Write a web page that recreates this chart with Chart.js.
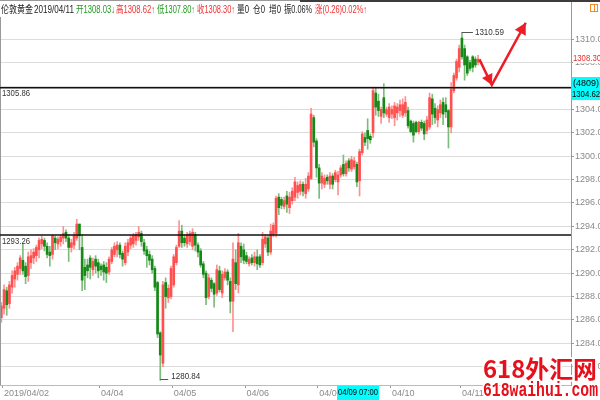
<!DOCTYPE html>
<html>
<head>
<meta charset="utf-8">
<script src="https://cdn.jsdelivr.net/npm/chart.js@4.4.1/dist/chart.umd.min.js"></script>
<style>
  html, body { margin: 0; padding: 0; background: #fff; }
  #wrap { width: 600px; height: 400px; }
</style>
</head>
<body>
<div id="wrap"><canvas id="goldChart" width="600" height="400"></canvas></div>
<script>
// slots on the time axis (candles + empty room on the right)
const SLOTS = 212;

// hourly candles
const opens = [
  1286.2, 1287.0, 1288.5, 1287.4, 1288.8, 1289.5, 1289.9, 1290.4, 1291.1, 1290.6,
  1289.8, 1290.9, 1291.3, 1291.5, 1292.0, 1292.5, 1292.8, 1292.3, 1291.8, 1291.6,
  1293.0, 1292.5, 1292.7, 1293.0, 1293.5, 1293.0, 1292.2, 1292.4, 1293.0, 1294.2,
  1292.2, 1290.5, 1290.7, 1291.3, 1290.3, 1291.2, 1290.9, 1290.6, 1290.7, 1290.5,
  1290.1, 1291.0, 1291.6, 1292.0, 1292.4, 1291.7, 1290.9, 1291.8, 1292.4, 1292.5,
  1292.8, 1293.1, 1293.4, 1292.6, 1292.0, 1291.6, 1291.2, 1290.4, 1289.2, 1284.9,
  1282.3, 1289.2, 1287.9, 1288.0, 1289.0, 1290.9, 1292.3, 1293.6, 1293.0, 1292.5,
  1292.7, 1292.3, 1293.3, 1292.4, 1291.9, 1290.8, 1290.0, 1288.0, 1289.4, 1289.1,
  1288.3, 1290.2, 1288.3, 1289.6, 1290.1, 1289.3, 1287.6, 1290.9, 1289.0, 1292.3,
  1292.0, 1291.5, 1290.8, 1291.3, 1290.9, 1291.4, 1291.4, 1290.9, 1292.5, 1293.0,
  1291.8, 1293.3, 1293.4, 1296.5, 1296.3, 1295.7, 1296.6, 1295.6, 1296.2, 1296.5,
  1296.9, 1297.0, 1297.6, 1296.8, 1297.2, 1298.1, 1303.3, 1301.3, 1299.0, 1297.7,
  1297.6, 1298.2, 1297.6, 1298.3, 1298.0, 1297.8, 1298.4, 1299.3, 1298.5, 1299.6,
  1298.9, 1299.1, 1299.3, 1297.9, 1300.3, 1301.6, 1302.2, 1301.7, 1302.0, 1305.4,
  1304.7, 1303.4, 1305.0, 1303.6, 1303.3, 1303.6, 1303.3, 1303.7, 1303.9, 1303.5,
  1303.7, 1303.9, 1303.0, 1302.8, 1302.9, 1302.1, 1302.9, 1302.8, 1302.2, 1302.5,
  1304.9, 1304.1, 1303.1, 1303.7, 1304.6, 1304.4, 1303.9, 1302.5, 1305.6, 1306.7,
  1307.6, 1310.1, 1309.2, 1308.5, 1308.0, 1308.5, 1308.3, 1308.03
];
const highs = [
  1287.5, 1289.0, 1288.8, 1289.3, 1290.2, 1290.5, 1290.9, 1291.5, 1292.5, 1290.9,
  1291.8, 1292.0, 1292.1, 1292.4, 1293.0, 1293.2, 1293.0, 1292.6, 1292.3, 1293.3,
  1293.2, 1293.1, 1293.3, 1294.0, 1293.7, 1293.3, 1292.9, 1293.5, 1294.6, 1294.2,
  1293.3, 1291.2, 1291.2, 1291.5, 1291.3, 1291.5, 1291.2, 1290.8, 1291.0, 1290.9,
  1291.4, 1292.2, 1292.6, 1292.7, 1292.6, 1291.9, 1292.6, 1292.9, 1293.2, 1293.4,
  1293.5, 1294.0, 1293.6, 1292.9, 1292.3, 1291.9, 1291.5, 1290.6, 1289.3, 1285.0,
  1289.3, 1289.6, 1289.0, 1290.6, 1291.6, 1292.4, 1294.5, 1294.1, 1293.3, 1293.5,
  1293.6, 1293.8, 1293.5, 1292.6, 1292.1, 1291.0, 1290.2, 1289.9, 1289.6, 1289.2,
  1290.7, 1290.6, 1290.2, 1290.4, 1290.3, 1289.6, 1292.6, 1292.0, 1293.4, 1292.6,
  1292.5, 1291.8, 1291.4, 1291.6, 1291.8, 1292.0, 1291.6, 1293.5, 1293.3, 1293.2,
  1294.2, 1294.3, 1296.6, 1296.8, 1296.5, 1296.5, 1297.0, 1296.9, 1297.3, 1298.2,
  1297.8, 1297.9, 1297.8, 1298.1, 1298.6, 1304.1, 1303.5, 1301.5, 1299.3, 1298.6,
  1298.4, 1298.4, 1298.6, 1298.5, 1298.8, 1298.7, 1299.2, 1300.1, 1299.6, 1299.8,
  1300.0, 1299.9, 1299.5, 1300.6, 1302.1, 1302.0, 1303.2, 1301.9, 1305.9, 1305.9,
  1305.3, 1304.2, 1306.2, 1304.2, 1304.5, 1304.3, 1304.6, 1304.5, 1304.8, 1304.9,
  1305.1, 1304.2, 1303.1, 1303.0, 1303.0, 1303.0, 1303.1, 1303.0, 1303.4, 1305.4,
  1305.3, 1304.5, 1304.3, 1304.8, 1305.0, 1305.0, 1304.0, 1306.3, 1307.1, 1308.3,
  1309.5, 1310.59, 1309.5, 1308.6, 1308.2, 1308.6, 1308.5, 1308.62
];
const lows = [
  1285.8, 1286.5, 1286.4, 1287.0, 1288.3, 1288.8, 1289.4, 1289.9, 1289.9, 1289.1,
  1289.3, 1290.4, 1290.8, 1291.0, 1291.3, 1292.1, 1291.9, 1291.3, 1290.6, 1291.2,
  1292.0, 1292.1, 1292.3, 1292.5, 1292.7, 1291.0, 1291.8, 1292.1, 1292.8, 1292.0,
  1288.5, 1288.6, 1289.6, 1289.5, 1289.8, 1290.0, 1289.6, 1289.8, 1289.4, 1289.2,
  1289.9, 1290.8, 1291.4, 1291.4, 1291.3, 1290.6, 1290.7, 1291.5, 1292.1, 1292.2,
  1292.4, 1292.8, 1292.3, 1291.6, 1290.5, 1290.7, 1290.0, 1288.5, 1284.5, 1280.84,
  1282.0, 1287.0, 1287.5, 1287.8, 1288.8, 1290.7, 1292.2, 1292.2, 1292.3, 1292.2,
  1292.4, 1292.0, 1291.9, 1291.4, 1290.5, 1289.6, 1287.3, 1287.8, 1288.4, 1287.1,
  1288.1, 1288.4, 1287.9, 1289.4, 1289.0, 1286.6, 1285.0, 1288.6, 1288.3, 1290.9,
  1290.8, 1290.8, 1290.6, 1290.7, 1290.6, 1290.3, 1290.5, 1290.7, 1292.2, 1291.5,
  1291.6, 1293.1, 1293.1, 1295.0, 1295.5, 1295.5, 1295.2, 1295.1, 1295.9, 1296.2,
  1296.4, 1296.7, 1296.6, 1296.4, 1297.0, 1298.0, 1300.8, 1298.2, 1296.4, 1297.2,
  1297.3, 1297.6, 1297.2, 1297.2, 1297.8, 1296.7, 1298.2, 1298.3, 1298.3, 1298.7,
  1298.7, 1298.9, 1297.4, 1296.6, 1300.1, 1300.9, 1300.6, 1301.1, 1301.6, 1303.5,
  1303.4, 1302.8, 1303.3, 1303.4, 1302.9, 1303.2, 1302.6, 1303.1, 1303.4, 1303.3,
  1303.4, 1302.4, 1302.0, 1301.2, 1302.0, 1301.9, 1302.2, 1301.4, 1301.9, 1302.3,
  1302.7, 1302.8, 1302.5, 1303.3, 1302.7, 1303.3, 1300.7, 1302.0, 1305.4, 1306.5,
  1307.2, 1308.3, 1306.5, 1306.9, 1307.3, 1307.2, 1307.6, 1307.80
];
const closes = [
  1287.2, 1288.6, 1287.3, 1289.0, 1289.8, 1290.2, 1290.6, 1291.3, 1290.2, 1289.7,
  1291.4, 1291.5, 1291.8, 1292.2, 1292.8, 1292.9, 1292.3, 1291.6, 1291.5, 1293.2,
  1292.6, 1292.9, 1293.1, 1293.4, 1293.0, 1292.2, 1292.6, 1293.2, 1294.2, 1293.2,
  1289.4, 1289.8, 1290.2, 1290.5, 1291.0, 1290.6, 1290.2, 1290.3, 1290.1, 1290.0,
  1291.2, 1292.0, 1292.3, 1292.4, 1291.6, 1291.2, 1292.3, 1292.6, 1293.0, 1293.2,
  1293.3, 1293.5, 1292.7, 1291.9, 1291.5, 1291.1, 1290.3, 1288.8, 1284.8, 1283.0,
  1289.0, 1288.0, 1288.7, 1290.4, 1291.4, 1292.2, 1293.6, 1292.6, 1292.6, 1293.3,
  1293.4, 1293.5, 1292.4, 1291.8, 1290.7, 1289.9, 1287.9, 1289.6, 1288.7, 1288.2,
  1290.3, 1288.6, 1289.9, 1290.1, 1289.4, 1287.6, 1291.2, 1289.1, 1292.6, 1291.4,
  1291.1, 1291.0, 1291.2, 1290.9, 1291.4, 1290.8, 1290.7, 1292.9, 1293.1, 1291.8,
  1293.6, 1294.1, 1296.4, 1295.6, 1295.8, 1296.2, 1295.9, 1296.5, 1297.0, 1297.8,
  1297.5, 1297.6, 1297.0, 1297.6, 1298.3, 1303.6, 1301.2, 1299.0, 1297.7, 1298.3,
  1298.1, 1297.9, 1298.3, 1297.6, 1298.6, 1298.4, 1299.0, 1298.5, 1299.4, 1299.0,
  1299.7, 1299.6, 1297.8, 1300.4, 1301.9, 1301.2, 1301.5, 1301.4, 1305.6, 1304.2,
  1303.9, 1304.0, 1303.7, 1304.0, 1304.2, 1304.0, 1304.3, 1304.2, 1304.4, 1304.4,
  1304.6, 1302.6, 1302.1, 1301.8, 1302.1, 1302.9, 1302.4, 1301.9, 1303.1, 1305.0,
  1303.6, 1303.3, 1304.0, 1304.4, 1303.6, 1303.8, 1302.5, 1305.7, 1306.9, 1308.1,
  1309.2, 1308.5, 1307.8, 1307.1, 1307.5, 1307.6, 1307.8, 1308.30
];

// date ticks on the time axis
const tickIndex = [1, 37, 64, 91, 118, 145, 171];
const tickText = ['2019/04/02', '04/04', '04/05', '04/06', '04/08', '04/10', '04/11'];

// marked levels and labels
const levelLines = [1305.86, 1293.26];
const lastPrice = 1308.30;
const cursorVolume = '(4809)';
const cursorPrice = 1304.62;
const cursorTime = '04/09 07:00';
const highMark = { idx: 171, value: 1310.59 };
const lowMark = { idx: 59, value: 1280.84 };
// hand-drawn arrow (slot index, price)
const arrowPath = [[177.5, 1308.28], [182.1, 1306.09], [194.7, 1311.41]];

const slots = Array.from({ length: SLOTS }, (_, i) => String(i));
const isUp = closes.map((c, i) => c >= opens[i]);
const bodyData = opens.map((o, i) => [Math.min(o, closes[i]), Math.max(o, closes[i])]);
const wickData = lows.map((l, i) => [l, highs[i]]);

function arrowHead(ctx, fx, fy, tx, ty, size) {
    const ang = Math.atan2(ty - fy, tx - fx);
    ctx.beginPath();
    ctx.moveTo(tx, ty);
    ctx.lineTo(tx - size * Math.cos(ang - 0.5), ty - size * Math.sin(ang - 0.5));
    ctx.lineTo(tx - size * Math.cos(ang + 0.5), ty - size * Math.sin(ang + 0.5));
    ctx.closePath();
    ctx.fill();
}

const overlay = {
    id: 'overlay',
    afterDraw(chart) {
        const ctx = chart.ctx;
        const area = chart.chartArea;
        const xs = chart.scales.x, ys = chart.scales.y;
        const FONT = '"Liberation Sans", "Noto Sans CJK SC", sans-serif';
        ctx.save();

        // frame
        ctx.fillStyle = '#9a9a9a';
        ctx.fillRect(0, 0, 300, 1);
        ctx.fillStyle = '#3c3c3c';
        ctx.fillRect(300, 0, 300, 2);
        ctx.strokeStyle = '#999';
        ctx.lineWidth = 1;
        ctx.beginPath();
        ctx.moveTo(area.right + 0.5, 2); ctx.lineTo(area.right + 0.5, area.top);
        ctx.moveTo(0.5, area.top); ctx.lineTo(0.5, area.bottom);
        ctx.stroke();
        ctx.strokeStyle = '#f08a24';
        ctx.strokeRect(590.5, 4.5, 7, 7);
        ctx.beginPath(); ctx.moveTo(594.5, 4.5); ctx.lineTo(594.5, 11.5); ctx.stroke();

        // header line
        const head = [
            ['伦敦黄金', '#222', 1, 32],
            ['2019/04/11', '#222', 34, 40],
            ['开1308.03↓', '#1e9a1e', 76, 39],
            ['高1308.62↑', '#f03030', 116, 39],
            ['低1307.80↑', '#1e9a1e', 157, 38],
            ['收1308.30↑', '#f03030', 197, 38],
            ['量0', '#222', 237, 12],
            ['仓0', '#222', 253, 12],
            ['增0', '#222', 269, 12],
            ['振0.06%', '#222', 284, 28],
            ['涨(0.26)0.02%↑', '#f03030', 315, 52]
        ];
        ctx.font = '10.5px ' + FONT;
        ctx.textBaseline = 'alphabetic';
        ctx.textAlign = 'left';
        head.forEach(([t, c, x, w]) => {
            ctx.fillStyle = c;
            ctx.fillText(t, x, 13, w);
        });

        // black level lines
        ctx.strokeStyle = '#111';
        ctx.lineWidth = 1.5;
        ctx.font = '9px ' + FONT;
        levelLines.forEach(v => {
            const y = ys.getPixelForValue(v);
            ctx.beginPath(); ctx.moveTo(area.left, y); ctx.lineTo(area.right, y); ctx.stroke();
            ctx.fillStyle = '#333';
            ctx.textBaseline = 'middle';
            ctx.fillText(v.toFixed(2), 2, y + 6, 28);
        });

        // high / low marks
        ctx.strokeStyle = '#555';
        ctx.lineWidth = 1;
        ctx.fillStyle = '#333';
        let hx = xs.getPixelForValue(highMark.idx), hy = ys.getPixelForValue(highMark.value);
        ctx.beginPath(); ctx.moveTo(hx, Math.round(hy) + 0.5); ctx.lineTo(hx + 11, Math.round(hy) + 0.5); ctx.stroke();
        ctx.fillText(highMark.value.toFixed(2), hx + 13, hy, 29);
        let lx = xs.getPixelForValue(lowMark.idx), ly = ys.getPixelForValue(lowMark.value);
        ctx.beginPath(); ctx.moveTo(lx, Math.round(ly) - 0.5); ctx.lineTo(lx + 8, Math.round(ly) - 0.5); ctx.stroke();
        ctx.fillText(lowMark.value.toFixed(2), lx + 11, ly - 4, 29);

        // last price on the axis
        const py = ys.getPixelForValue(lastPrice);
        ctx.fillStyle = '#fff';
        ctx.fillRect(area.right + 2, py - 5, 30, 9);
        ctx.fillStyle = '#f02828';
        ctx.fillText(lastPrice.toFixed(2), area.right + 2, py - 1, 28);

        // cursor boxes
        ctx.fillStyle = '#00ffff';
        ctx.fillRect(area.right + 0.5, 77, 30, 23);
        ctx.fillStyle = '#000';
        ctx.textAlign = 'center';
        ctx.fillText(cursorVolume, area.right + 15, 83.5, 28);
        ctx.fillText(cursorPrice.toFixed(2), area.right + 15, 94.5, 28);
        ctx.fillStyle = '#00ffff';
        ctx.fillRect(337, area.bottom + 1, 42, 14);
        ctx.fillStyle = '#000';
        ctx.fillText(cursorTime, 358, area.bottom + 8, 40);

        // red arrow
        const pts = arrowPath.map(([i, v]) => [xs.getPixelForValue(i), ys.getPixelForValue(v)]);
        ctx.strokeStyle = '#ee1c25';
        ctx.fillStyle = '#ee1c25';
        ctx.lineWidth = 2.5;
        ctx.beginPath();
        ctx.moveTo(pts[0][0], pts[0][1]);
        ctx.lineTo(pts[1][0], pts[1][1]);
        ctx.lineTo(pts[2][0], pts[2][1]);
        ctx.stroke();
        arrowHead(ctx, pts[0][0], pts[0][1], pts[1][0], pts[1][1], 12);
        arrowHead(ctx, pts[1][0], pts[1][1], pts[2][0], pts[2][1], 13);

        // watermark
        ctx.textAlign = 'left';
        ctx.textBaseline = 'alphabetic';
        ctx.lineJoin = 'round';
        ctx.strokeStyle = '#fff';
        ctx.lineWidth = 4;
        ctx.font = 'bold 24px "Noto Sans CJK SC", "Liberation Sans", sans-serif';
        ctx.strokeText('618外汇网', 483, 378, 114);
        ctx.fillStyle = '#e60f1a';
        ctx.fillText('618外汇网', 483, 378, 114);
        ctx.font = 'bold 20px "Liberation Mono", monospace';
        ctx.strokeText('618waihui.com', 483, 396, 115);
        ctx.fillText('618waihui.com', 483, 396, 115);

        ctx.restore();
    }
};

new Chart(document.getElementById('goldChart').getContext('2d'), {
    type: 'bar',
    data: {
        labels: slots,
        datasets: [{
            label: 'body',
            data: bodyData,
            backgroundColor: isUp.map(u => u ? '#ff5050' : '#168816'),
            barThickness: 2,
            minBarLength: 1,
            grouped: false,
            borderWidth: 0
        }, {
            label: 'wick',
            data: wickData,
            backgroundColor: isUp.map(u => u ? '#ff9090' : '#7cbc7c'),
            barThickness: 1,
            grouped: false,
            borderWidth: 0
        }]
    },
    options: {
        responsive: false,
        animation: false,
        layout: { padding: { top: 17, left: 0, right: 0, bottom: 0 } },
        plugins: { legend: { display: false }, tooltip: { enabled: false } },
        scales: {
            x: {
                type: 'category',
                offset: true,
                grid: {
                    drawOnChartArea: false,
                    tickLength: 3,
                    color: c => tickIndex.includes(c.index) ? '#999' : 'rgba(0,0,0,0)'
                },
                border: { color: '#bbb' },
                ticks: {
                    autoSkip: false,
                    maxRotation: 0,
                    align: 'start',
                    padding: 0,
                    color: '#8a8a8a',
                    font: { size: 9, family: '"Liberation Sans", sans-serif' },
                    callback: (v, i) => {
                        const k = tickIndex.indexOf(i);
                        return k >= 0 ? tickText[k] : '';
                    }
                },
                afterFit: s => { s.height = 15; }
            },
            y: {
                position: 'right',
                min: 1280.44,
                max: 1311.9,
                grid: { color: '#dcdcdc', tickLength: 3, tickColor: '#999' },
                border: { color: '#999' },
                ticks: {
                    stepSize: 2,
                    includeBounds: false,
                    padding: 1,
                    color: '#8a8a8a',
                    font: { size: 9, family: '"Liberation Sans", sans-serif' },
                    callback: v => v.toFixed(2)
                },
                afterFit: s => { s.width = 29; }
            }
        }
    },
    plugins: [overlay]
});
</script>
</body>
</html>
